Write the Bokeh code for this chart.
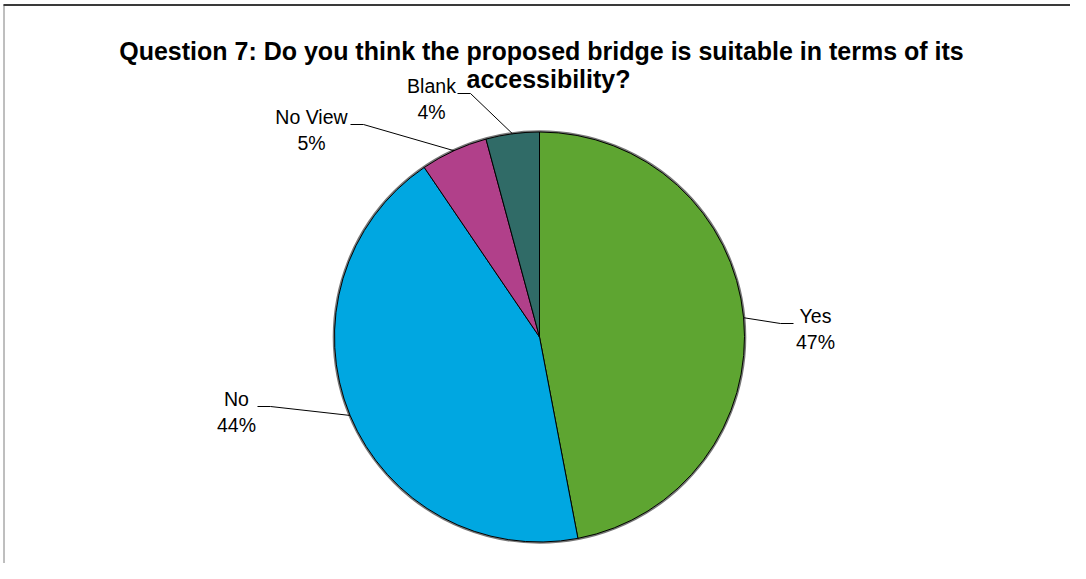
import numpy as np
from bokeh.plotting import figure
from bokeh.models import Range1d, ColumnDataSource
from bokeh.embed import file_html
from bokeh.resources import INLINE
from bokeh.core.properties import value

# ---- data ----
categories = ["Yes", "No", "No View", "Blank"]
shares = [47.0, 43.5, 5.3, 4.2]
pct_labels = ["47%", "44%", "5%", "4%"]
colors = ["#5EA531", "#00A7E1", "#B1408A", "#306B67"]
title_lines = ["Question 7: Do you think the proposed bridge is suitable in terms of its",
               "accessibility?"]

# ---- layout (pixels) ----
W, H = 1070, 563
def X(ix):
    return ix
def Y(iy):
    return H - iy

CX, CY, R = X(539), Y(336.5), 205
# leader elbow offsets from pie centre (dx right, dy up) and label side
elbow_off = [(241, 13.5), (-269, -69.5), (-176, 212.5), (-69, 243.5)]
side = [1, -1, -1, -1]
label_gap = [22, 21, 39, 26]
FONT = "Liberation Sans"

p = figure(width=W, height=H, x_range=Range1d(0, W), y_range=Range1d(0, H),
           output_backend="svg", toolbar_location=None, min_border=0,
           x_axis_type=None, y_axis_type=None)
p.grid.visible = False
p.outline_line_color = None
p.background_fill_color = "white"
p.border_fill_color = "white"

# chart-area border (left and top visible in reference)
p.segment(x0=[X(3.5), X(3)], y0=[Y(4), Y(4.5)], x1=[X(3.5), W], y1=[0, Y(4.5)],
          line_color=["#7f7f7f", "#3a3a3a"], line_width=[1, 2])

vals = np.array(shares, dtype=float)
frac = vals / vals.sum()
cum_end = np.cumsum(frac)
cum_start = cum_end - frac
start = np.pi / 2 - 2 * np.pi * cum_start
end = np.pi / 2 - 2 * np.pi * cum_end

# soft dark rim behind the pie
p.circle(x=[CX], y=[CY], radius=R + 0.8, fill_color=None,
         line_color="#555555", line_width=2, line_alpha=0.8)

src = ColumnDataSource(dict(start=start, end=end, color=colors, cat=categories))
p.wedge(x=CX, y=CY, radius=R, start_angle="start", end_angle="end",
        direction="clock", fill_color="color", line_color="black",
        line_width=1, source=src)

# leaders and labels
mid = 2 * np.pi * (cum_start + frac / 2)
for i, cat in enumerate(categories):
    sx = CX + R * np.sin(mid[i])
    sy = CY + R * np.cos(mid[i])
    ex = CX + elbow_off[i][0]
    ey = CY + elbow_off[i][1]
    hx = ex + side[i] * 13
    p.line(x=[sx, ex, hx], y=[sy, ey, ey], line_color="black", line_width=1)
    lx = hx + side[i] * label_gap[i]
    p.text(x=[lx, lx], y=[ey + 8, ey - 18], text=[cat, pct_labels[i]],
           text_align="center", text_baseline="alphabetic",
           text_font=value(FONT), text_font_size="19.5px", text_color="black")

# title
p.text(x=[X(541), X(548)], y=[Y(50.5), Y(78)], text=title_lines,
       text_align="center", text_baseline="alphabetic",
       text_font=value(FONT), text_font_style="bold",
       text_font_size="25px", text_color="black")

open("out.html", "w").write(file_html(p, INLINE))
